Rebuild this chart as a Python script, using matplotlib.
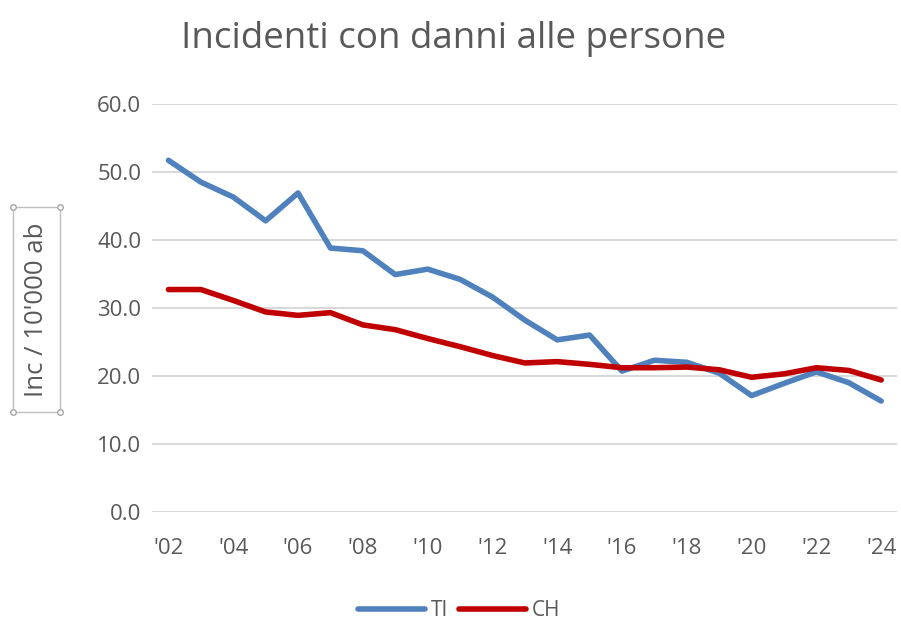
import numpy as np
import matplotlib
matplotlib.use("Agg")
import matplotlib.pyplot as plt
from matplotlib.lines import Line2D
from matplotlib.patches import Rectangle
from matplotlib import rcParams

rcParams.update({
    'font.family': ['Open Sans', 'DejaVu Sans'],
    'text.color': '#595959',
    'xtick.color': '#595959',
    'ytick.color': '#595959',
})

years = np.arange(2002, 2025)
ti = [51.7, 48.5, 46.3, 42.8, 46.9, 38.8, 38.4, 34.9, 35.7, 34.2, 31.6, 28.2,
      25.3, 26.0, 20.7, 22.3, 22.0, 20.4, 17.1, 18.9, 20.6, 19.0, 16.3]
ch = [32.7, 32.7, 31.1, 29.4, 28.9, 29.3, 27.5, 26.8, 25.5, 24.3, 23.0, 21.9,
      22.1, 21.7, 21.2, 21.2, 21.3, 20.9, 19.8, 20.3, 21.2, 20.8, 19.4]
xlabels = ["'%02d" % (y % 100) for y in years[::2]]

fig = plt.figure(figsize=(9.01, 6.22), dpi=100)
ax = fig.add_axes([0.169, 0.177, 0.827, 0.656])

ax.plot(years, ti, color='#4F81BD', lw=4, solid_capstyle='round', label='TI', zorder=3)
ax.plot(years, ch, color='#C00000', lw=4, solid_capstyle='round', label='CH', zorder=3)

ax.set_xlim(2001.5, 2024.5)
ax.set_ylim(0, 60)
ax.set_yticks(np.arange(0, 61, 10))
ax.set_yticklabels(['%.1f' % v for v in np.arange(0, 61, 10)])
ax.set_xticks(years[::2])
ax.set_xticklabels(xlabels)
ax.tick_params(length=0, labelsize=16)
ax.tick_params(axis='x', pad=19)
ax.tick_params(axis='y', pad=8)
ax.grid(axis='y', color='#D9D9D9', lw=1.5)
ax.set_axisbelow(True)
for s in ax.spines.values():
    s.set_visible(False)

fig.text(0.503, 0.938, 'Incidenti con danni alle persone', ha='center', va='center',
         fontsize=26.5, color='#595959')

# y label inside a selected text box
x0, x1, y0, y1 = 0.0144, 0.0666, 0.3376, 0.667
fig.add_artist(Rectangle((x0, y0), x1 - x0, y1 - y0, transform=fig.transFigure,
                         fill=False, ec='#BFBFBF', lw=1))
fig.text((x0 + x1) / 2, (y0 + y1) / 2, "Inc / 10'000 ab", rotation=90,
         ha='center', va='center', fontsize=18.5, color='#595959')
for cx, cy in [(x0, y1), (x1, y1), (x0, y0), (x1, y0)]:
    fig.add_artist(Line2D([cx], [cy], marker='o', ms=4, mfc='white', mec='#A6A6A6',
                          mew=1, transform=fig.transFigure))

fig.legend(loc='center', bbox_to_anchor=(0.51, 0.018), ncol=2, frameon=False,
           fontsize=15, handlelength=3.2, handletextpad=0.3, columnspacing=0.5)

fig.savefig('out.png', dpi=100)
